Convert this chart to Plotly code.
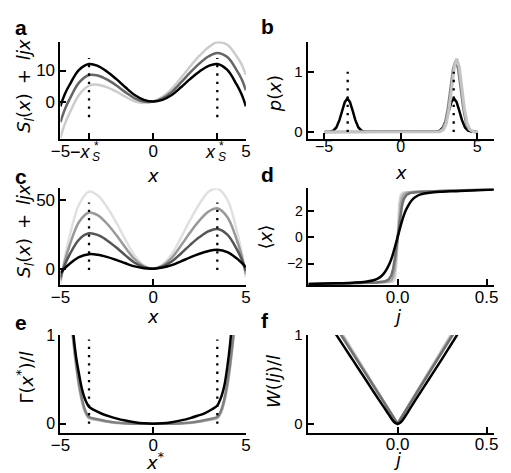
import plotly.graph_objects as go

W, H = 511, 473

# ---------------- data ----------------
# panel a : S_l(x) + ljx
a_x = [-5, -4.9, -4.75, -4.5, -4, -3.46, -3, -2.5, -2, -1.5, -1, -0.5, 0,
       0.5, 1, 1.5, 2, 2.5, 3, 3.46, 4, 4.5, 4.75, 4.9, 5]
a_black = [-1.5, 0.3, 2.6, 5.5, 10.2, 12.1, 11.5, 9.7, 7.3, 4.6, 2.1, 0.55, 0,
           0.55, 2.1, 4.6, 7.3, 9.7, 11.5, 12.1, 10.2, 5.5, 2.6, 0.3, -1.5]
a_dark = [-6.65, -4.75, -2.29, 0.86, 6.08, 8.54, 8.41, 7.12, 5.24, 3.05, 1.07, 0.03, 0,
          1.07, 3.13, 6.15, 9.36, 12.28, 14.59, 15.66, 14.32, 10.14, 7.49, 5.35, 3.65]
a_light = [-11.6, -9.6, -7.0, -3.59, 2.12, 5.11, 5.44, 4.65, 3.26, 1.57, 0.08, -0.46, 0,
           1.56, 4.12, 7.63, 11.34, 14.75, 17.56, 19.09, 18.28, 14.59, 12.19, 10.2, 8.6]
a_dot_x = [-3.46, 3.46]
a_dot_y = [-5, 14]
a_ticks = [-5, -3.46, 0, 3.46, 5]
a_ticktext = ["−5", "", "0", "", "5"]
a_xs_labels = ["−<i>x</i>", "<i>x</i>"]   # the ±x*_S tick labels (drawn stacked below)

# panel b : p(x)
b_black_x = [-5, -4.68, -4.4, -4.2, -4.0, -3.81, -3.65, -3.48, -3.31, -3.15, -2.96, -2.76, -2.56, -2.28,
             2.28, 2.56, 2.76, 2.96, 3.15, 3.31, 3.48, 3.65, 3.81, 4.0, 4.2, 4.4, 4.68, 5]
b_black_y = [0, 0.002, 0.021, 0.075, 0.196, 0.365, 0.497, 0.556, 0.497, 0.365, 0.196, 0.075, 0.021, 0.002,
             0.002, 0.021, 0.075, 0.196, 0.365, 0.497, 0.556, 0.497, 0.365, 0.196, 0.075, 0.021, 0.002, 0]
b_dark_x = [-5, 2.48, 2.72, 2.9, 3.08, 3.26, 3.42, 3.58, 3.74, 3.9, 4.08, 4.26, 4.44, 4.68, 5]
b_dark_y = [0, 0.006, 0.046, 0.156, 0.395, 0.754, 1.055, 1.18, 1.055, 0.754, 0.395, 0.156, 0.046, 0.006, 0]
b_light_x = [-5, 2.56, 2.8, 2.98, 3.16, 3.34, 3.5, 3.66, 3.82, 3.98, 4.16, 4.34, 4.52, 4.76, 5]
b_light_y = [0, 0.005, 0.041, 0.145, 0.385, 0.759, 1.08, 1.215, 1.08, 0.759, 0.385, 0.145, 0.041, 0.005, 0]
b_dot_x = [-3.46, 3.46]
b_dot_y = [0, 1]

# panel c : S_l(x) + ljx for several l
c_x = a_x
c_black = [-3.0, -1.6, 0.6, 3.6, 8.4, 10.54, 10.15, 8.57, 6.4, 3.92, 1.65, 0.32, 0,
           0.78, 2.55, 5.28, 8.2, 10.83, 12.85, 13.66, 12.0, 7.53, 4.54, 2.6, 0.9]
c_dark = [-6.3, -2.2, 3.26, 10.35, 21.15, 25.67, 24.53, 20.7, 15.53, 9.67, 4.28, 1.01, 0,
          1.47, 5.18, 11.03, 17.33, 22.96, 27.23, 28.79, 24.75, 14.41, 7.54, 2.2, -1.8]
c_mid = [-8.55, -2.2, 6.26, 17.22, 33.9, 40.79, 38.9, 32.82, 24.65, 15.42, 6.9, 1.7, 0,
         2.16, 7.8, 16.78, 26.45, 35.08, 41.6, 43.91, 37.5, 21.28, 10.54, 2.2, -4.05]
c_light = [-10.8, -2.2, 9.26, 24.1, 46.65, 55.92, 53.28, 44.95, 33.78, 21.17, 9.53, 2.38, 0,
           2.84, 10.43, 22.53, 35.58, 47.21, 55.98, 58.2, 50.25, 28.16, 13.54, 2.2, -6.3]
c_dot_x = [-3.46, 3.46]
c_dot_y = [-1, 48]

# panel d : <x> vs j
d_black_j = [-0.5, -0.35, -0.25, -0.18, -0.13, -0.1, -0.08, -0.06, -0.045, -0.03, -0.015, 0,
             0.015, 0.03, 0.045, 0.06, 0.08, 0.1, 0.13, 0.18, 0.25, 0.35, 0.545]
d_black_y = [-3.55, -3.5, -3.45, -3.38, -3.25, -3.05, -2.8, -2.4, -2.0, -1.45, -0.75, 0,
             0.75, 1.45, 2.0, 2.4, 2.8, 3.05, 3.25, 3.38, 3.45, 3.5, 3.62]
d_dark_j = [-0.5, -0.25, -0.12, -0.07, -0.05, -0.035, -0.025, -0.015, -0.007, 0,
            0.007, 0.015, 0.025, 0.035, 0.05, 0.07, 0.12, 0.25, 0.545]
d_dark_y = [-3.56, -3.5, -3.43, -3.35, -3.2, -2.9, -2.4, -1.6, -0.8, 0,
            0.8, 1.6, 2.4, 2.9, 3.2, 3.35, 3.43, 3.5, 3.63]
d_mid_j = [-0.5, -0.25, -0.1, -0.05, -0.035, -0.025, -0.017, -0.01, -0.005, 0,
           0.005, 0.01, 0.017, 0.025, 0.035, 0.05, 0.1, 0.25, 0.545]
d_mid_y = [-3.57, -3.5, -3.44, -3.38, -3.25, -3.0, -2.5, -1.7, -0.9, 0,
           0.9, 1.7, 2.5, 3.0, 3.25, 3.38, 3.44, 3.5, 3.64]
d_light_j = [-0.5, -0.25, -0.1, -0.03, -0.02, -0.014, -0.009, -0.005, -0.0025, 0,
             0.0025, 0.005, 0.009, 0.014, 0.02, 0.03, 0.1, 0.25, 0.545]
d_light_y = [-3.57, -3.5, -3.44, -3.38, -3.25, -3.0, -2.5, -1.7, -0.9, 0,
             0.9, 1.7, 2.5, 3.0, 3.25, 3.38, 3.44, 3.5, 3.64]

# panel e : Gamma(x*)/l
e_black_x = [-4.45, -4.3, -4.15, -4.0, -3.85, -3.7, -3.55, -3.46, -3.2, -2.8, -2.4, -2.0, -1.5, -1.0, -0.5, 0,
             0.5, 1.0, 1.5, 2.0, 2.4, 2.8, 3.2, 3.46, 3.55, 3.7, 3.85, 4.0, 4.15, 4.3, 4.45]
e_black_y = [1.3, 1.0, 0.74, 0.56, 0.4, 0.29, 0.22, 0.19, 0.155, 0.115, 0.085, 0.06, 0.035, 0.016, 0.004, 0,
             0.004, 0.017, 0.037, 0.063, 0.09, 0.12, 0.165, 0.205, 0.24, 0.32, 0.44, 0.64, 0.9, 1.25, 1.6]
e_gray_x = [-4.45, -4.3, -4.15, -4.0, -3.85, -3.7, -3.55, -3.46, -3.0, -2.5, -2.0, -1.5, -1.0, 0,
            1.0, 1.5, 2.0, 2.5, 3.0, 3.46, 3.55, 3.7, 3.85, 4.0, 4.15, 4.3, 4.45]
e_dark_y = [1.25, 0.95, 0.68, 0.46, 0.29, 0.17, 0.1, 0.075, 0.05, 0.028, 0.012, 0.004, 0.0, 0,
            0.0, 0.004, 0.012, 0.028, 0.05, 0.075, 0.1, 0.17, 0.29, 0.46, 0.68, 0.95, 1.25]
e_mid_y = [1.22, 0.92, 0.65, 0.43, 0.27, 0.155, 0.09, 0.068, 0.045, 0.025, 0.01, 0.003, 0.0, 0,
           0.0, 0.003, 0.01, 0.025, 0.045, 0.068, 0.09, 0.155, 0.27, 0.43, 0.65, 0.92, 1.22]
e_light_y = [1.2, 0.9, 0.63, 0.41, 0.25, 0.14, 0.08, 0.06, 0.04, 0.022, 0.008, 0.002, 0.0, 0,
             0.0, 0.002, 0.008, 0.022, 0.04, 0.06, 0.08, 0.14, 0.25, 0.41, 0.63, 0.9, 1.2]
e_dot_x = [-3.46, 3.46]
e_dot_y = [0, 0.95]

# panel f : W(lj)/l
f_black_j = [-0.36, -0.3, -0.25, -0.2, -0.15, -0.1, -0.07, -0.05, -0.03, -0.015, 0,
             0.015, 0.03, 0.05, 0.07, 0.1, 0.15, 0.2, 0.25, 0.3, 0.35]
f_black_y = [1.05, 0.866, 0.713, 0.56, 0.407, 0.254, 0.165, 0.105, 0.045, 0.012, 0,
             0.012, 0.045, 0.105, 0.17, 0.265, 0.42, 0.575, 0.73, 0.89, 1.05]
f_gray_j = [-0.36, -0.2, -0.1, 0, 0.1, 0.2, 0.36]
f_dark_y = [1.132, 0.629, 0.314, 0, 0.323, 0.645, 1.161]
f_mid_y = [1.154, 0.641, 0.321, 0, 0.329, 0.658, 1.184]
f_light_y = [1.176, 0.654, 0.327, 0, 0.336, 0.671, 1.208]

# ---------------- figure ----------------
BLACK = "#000000"
FONT = "Liberation Sans, Arial, sans-serif"
TFONT = "DejaVu Sans, sans-serif"

fig = go.Figure()


def line(xs, ys, color, n, width=2.5, dash=None, shape="spline"):
    fig.add_trace(go.Scatter(
        x=xs, y=ys, mode="lines",
        line=dict(color=color, width=width, dash=dash, shape=shape),
        xaxis="x" if n == 1 else f"x{n}", yaxis="y" if n == 1 else f"y{n}",
        showlegend=False, hoverinfo="skip"))


def dots(xv, yr, n):
    xs, ys = [], []
    for v in xv:
        xs += [v, v, None]
        ys += [yr[0], yr[1], None]
    line(xs, ys, BLACK, n, width=2.3, dash="2.3px,6px", shape="linear")


# a
line(a_x, a_light, "#cccccc", 1)
line(a_x, a_dark, "#666666", 1)
line(a_x, a_black, BLACK, 1)
dots(a_dot_x, a_dot_y, 1)
# b
line(b_black_x, b_black_y, BLACK, 2, shape="linear")
line(b_dark_x, b_dark_y, "#808080", 2, shape="linear")
line(b_light_x, b_light_y, "#c4c4c4", 2, width=3, shape="linear")
dots(b_dot_x, b_dot_y, 2)
# c
line(c_x, c_light, "#e0e0e0", 3)
line(c_x, c_mid, "#999999", 3)
line(c_x, c_dark, "#555555", 3)
line(c_x, c_black, BLACK, 3)
dots(c_dot_x, c_dot_y, 3)
# d
line(d_light_j, d_light_y, "#d4d4d4", 4, shape="linear")
line(d_mid_j, d_mid_y, "#a8a8a8", 4, shape="linear")
line(d_dark_j, d_dark_y, "#707070", 4, shape="linear")
line(d_black_j, d_black_y, BLACK, 4)
# e
line(e_gray_x, e_light_y, "#d8d8d8", 5)
line(e_gray_x, e_mid_y, "#b0b0b0", 5)
line(e_gray_x, e_dark_y, "#808080", 5)
line(e_black_x, e_black_y, BLACK, 5)
dots(e_dot_x, e_dot_y, 5)
# f
line(f_gray_j, f_light_y, "#d4d4d4", 6, shape="linear")
line(f_gray_j, f_mid_y, "#a8a8a8", 6, shape="linear")
line(f_gray_j, f_dark_y, "#707070", 6, shape="linear")
line(f_black_j, f_black_y, BLACK, 6)


def px(x):
    return x / W


def py(y):
    return 1 - y / H


colx = [(52, 243), (306.7, 498.3)]
rowy = [(33.3, 132.7), (183.3, 282), (333, 432.7)]

axis_common = dict(showline=True, linewidth=2, linecolor="black", ticks="inside",
                   ticklen=6, tickwidth=1.5, tickcolor="black", showgrid=False,
                   zeroline=False, fixedrange=True)

specs = {
    1: dict(xr=[-5, 5], yr=[-12.0, 19.3], xt=a_ticks, xtt=a_ticktext,
            yt=[0, 10], ytt=["0", "10"], xs=-4, xf=17, yf=17),
    2: dict(xr=[-6.07, 6.07], yr=[-0.115, 1.5], xt=[-5, 0, 5], xtt=["−5", "0", "5"],
            yt=[0, 1], ytt=["0", "1"], xs=-8, xf=16, yf=15),
    3: dict(xr=[-5, 5], yr=[-11.9, 58.3], xt=[-5, 0, 5], xtt=["−5", "0", "5"],
            yt=[0, 50], ytt=["0", "50"], xs=-4, xf=17, yf=17),
    4: dict(xr=[-0.505, 0.54], yr=[-3.63, 3.7], xt=[0, 0.5], xtt=["0.0", "0.5"],
            yt=[-2, 0, 2], ytt=["−2", "0", "2"], xs=-4, xf=17, yf=14),
    5: dict(xr=[-5, 5], yr=[-0.1, 1.0], xt=[-5, 0, 5], xtt=["−5", "0", "5"],
            yt=[0, 1], ytt=["0", "1"], xs=-4, xf=17, yf=16),
    6: dict(xr=[-0.505, 0.54], yr=[-0.1, 1.0], xt=[0, 0.5], xtt=["0.0", "0.5"],
            yt=[0, 1], ytt=["0", "1"], xs=-5, xf=17, yf=15),
}

layout = dict(width=W, height=H, margin=dict(l=0, r=0, t=0, b=0),
              paper_bgcolor="white", plot_bgcolor="white", showlegend=False,
              font=dict(family=FONT, color="black"))
for n in range(1, 7):
    r = (n - 1) // 2
    c = (n - 1) % 2
    s = specs[n]
    xk = "xaxis" if n == 1 else f"xaxis{n}"
    yk = "yaxis" if n == 1 else f"yaxis{n}"
    xn = "x" if n == 1 else f"x{n}"
    yn = "y" if n == 1 else f"y{n}"
    layout[xk] = dict(axis_common, domain=[px(colx[c][0]), px(colx[c][1])],
                      range=s["xr"], tickvals=s["xt"], ticktext=s["xtt"], anchor=yn,
                      ticklabelstandoff=s["xs"],
                      tickfont=dict(family=FONT, size=s["xf"], color="black"))
    layout[yk] = dict(axis_common, domain=[py(rowy[r][1]), py(rowy[r][0])],
                      range=s["yr"], tickvals=s["yt"], ticktext=s["ytt"], anchor=xn,
                      tickfont=dict(family=FONT, size=s["yf"], color="black"))

fig.update_layout(**layout)

ann = []


def text(t, x, y, size, angle=0, bold=False, family=TFONT, xanchor="center"):
    ann.append(dict(text=f"<b>{t}</b>" if bold else t, x=px(x), y=py(y),
                    xref="paper", yref="paper", showarrow=False, textangle=angle,
                    xanchor=xanchor, yanchor="middle",
                    font=dict(family=family, size=size, color="black")))


# stacked x*_S tick labels of panel a
text(a_xs_labels[0], 85, 146, 18, family=FONT, xanchor="right")
text("*", 88.8, 139.5, 12, family=FONT)
text("<i>S</i>", 89, 151, 12, family=FONT)
text(a_xs_labels[1], 214, 146, 18, family=FONT, xanchor="right")
text("*", 217.8, 139.5, 12, family=FONT)
text("<i>S</i>", 218, 151, 12, family=FONT)

# panel letters
for t, x, y in [("a", 11, 19), ("b", 265, 18), ("c", 11, 171), ("d", 265, 169),
                ("e", 11, 320), ("f", 263, 318)]:
    text(t, x, y, 21, bold=True, family=FONT)

# x titles
text("<i>x</i>", 147.7, 170, 18)
text("<i>x</i>", 402.7, 167, 18)
text("<i>x</i>", 147.7, 314, 18)
text("<i>j</i>", 398.5, 314, 18)
text("<i>x</i><sup>*</sup>", 149, 462, 18)
text("<i>j</i>", 398.5, 460, 18)

# y titles
sp = "\u2002"
text(f"<i>S<sub>l</sub></i>(<i>x</i>){sp}+{sp}<i>ljx</i>", 16, 79, 18, angle=-90)
text("<i>p</i>(<i>x</i>)", 272, 87, 18, angle=-90)
text(f"<i>S<sub>l</sub></i>(<i>x</i>){sp}+{sp}<i>ljx</i>", 16, 227, 18, angle=-90)
text("⟨<i>x</i>⟩", 263, 233, 18, angle=-90)
text("Γ(<i>x</i><sup>*</sup>)/<i>l</i>", 16, 377, 18, angle=-90)
text("<i>W</i>(<i>lj</i>)/<i>l</i>", 272, 381, 18, angle=-90)

fig.update_layout(annotations=ann)
fig.write_html("out.html")
